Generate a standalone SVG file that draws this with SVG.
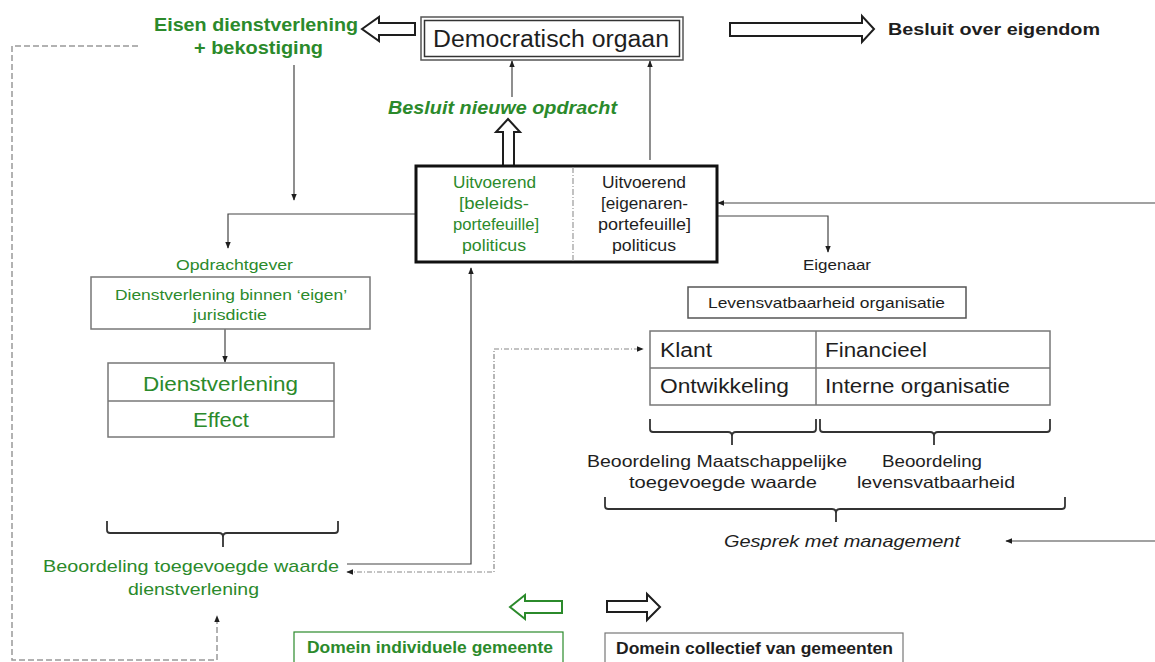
<svg xmlns="http://www.w3.org/2000/svg" width="1155" height="662" viewBox="0 0 1155 662">
<style>
text{font-family:"Liberation Sans",Arial,sans-serif;fill:#1e1e1e}
.g{fill:#2b8a2b}
.b{font-weight:bold}
.i{font-style:italic}
.box{fill:#fff;stroke:#777;stroke-width:1.5}
.ln{fill:none;stroke:#444;stroke-width:1.2}
.br{fill:none;stroke:#333;stroke-width:1.8}
.hol{fill:#fff;stroke:#1e1e1e;stroke-width:2;stroke-linejoin:miter}
</style>
<defs>
<marker id="ah" viewBox="0 0 10 10" refX="9" refY="5" markerWidth="7" markerHeight="7" orient="auto-start-reverse" markerUnits="userSpaceOnUse">
<path d="M0,1 L10,5 L0,9 Z" fill="#1e1e1e"/>
</marker>
</defs>

<g id="connectors">
<line class="ln" x1="512" y1="97" x2="512" y2="61" marker-end="url(#ah)"/>
<line class="ln" x1="650" y1="160" x2="650" y2="61" marker-end="url(#ah)"/>
<line class="ln" x1="294" y1="65" x2="294" y2="200" marker-end="url(#ah)"/>
<path class="ln" d="M416,214 L228,214 L228,248" marker-end="url(#ah)"/>
<line class="ln" x1="225" y1="323" x2="225" y2="362" marker-end="url(#ah)"/>
<line class="ln" x1="1155" y1="203" x2="718" y2="203" marker-end="url(#ah)"/>
<path class="ln" d="M717,216 L828,216 L828,252" marker-end="url(#ah)"/>
<path class="ln" d="M347,564 L471,564 L471,268" marker-end="url(#ah)"/>
<path fill="none" stroke="#888" stroke-width="1.2" stroke-dasharray="5,2,1,2" d="M347,572 L494,572 L494,349 L643,349" marker-start="url(#ah)" marker-end="url(#ah)"/>
<path fill="none" stroke="#999" stroke-width="1.5" stroke-dasharray="6,3" d="M138,46 L12,46 L12,660 L217,660 L217,616" marker-end="url(#ah)"/>
<line class="ln" x1="1155" y1="541" x2="1006" y2="541" marker-end="url(#ah)"/>
</g>

<g id="arrow-eisen">
<polygon class="hol" points="362,29 379,17 379,23 415,23 415,35 379,35 379,41"/>
</g>
<g id="arrow-eigendom">
<polygon class="hol" points="730,23 862,23 862,16 874,29 862,42 862,36 730,36"/>
</g>
<g id="arrow-opdracht">
<polygon class="hol" points="508,119 520,132 514,132 514,166 503,166 503,132 496,132"/>
</g>

<g id="eisen">
<text class="g b" x="154" y="31" font-size="18" textLength="204" lengthAdjust="spacingAndGlyphs">Eisen dienstverlening</text>
<text class="g b" x="194" y="54" font-size="18" textLength="129" lengthAdjust="spacingAndGlyphs">+ bekostiging</text>
</g>

<g id="democratisch-orgaan">
<rect x="421" y="17" width="262" height="43" fill="#fff" stroke="#555" stroke-width="1.5"/>
<rect x="424.5" y="20.5" width="255" height="36" fill="none" stroke="#333" stroke-width="1.5"/>
<text x="433" y="47" font-size="23" textLength="236" lengthAdjust="spacingAndGlyphs">Democratisch orgaan</text>
</g>

<g id="besluit-eigendom">
<text class="b" x="888" y="35" font-size="17" textLength="212" lengthAdjust="spacingAndGlyphs">Besluit over eigendom</text>
</g>

<g id="besluit-opdracht">
<text class="g b i" x="388" y="114" font-size="18" textLength="229" lengthAdjust="spacingAndGlyphs">Besluit nieuwe opdracht</text>
</g>

<g id="uitvoerend">
<rect x="416" y="166" width="301" height="96" fill="#fff" stroke="#111" stroke-width="3"/>
<line x1="573" y1="167" x2="573" y2="261" stroke="#999" stroke-width="1.2" stroke-dasharray="6,2,1,2"/>
<g font-size="16">
<text class="g" x="453" y="188" textLength="83" lengthAdjust="spacingAndGlyphs">Uitvoerend</text>
<text class="g" x="459" y="209" textLength="70" lengthAdjust="spacingAndGlyphs">[beleids-</text>
<text class="g" x="453" y="230" textLength="86" lengthAdjust="spacingAndGlyphs">portefeuille]</text>
<text class="g" x="462" y="251" textLength="64" lengthAdjust="spacingAndGlyphs">politicus</text>
<text x="602" y="188" textLength="84" lengthAdjust="spacingAndGlyphs">Uitvoerend</text>
<text x="601" y="209" textLength="87" lengthAdjust="spacingAndGlyphs">[eigenaren-</text>
<text x="598" y="230" textLength="93" lengthAdjust="spacingAndGlyphs">portefeuille]</text>
<text x="612" y="251" textLength="64" lengthAdjust="spacingAndGlyphs">politicus</text>
</g>
</g>

<g id="opdrachtgever">
<text class="g" x="176" y="270" font-size="15" textLength="117" lengthAdjust="spacingAndGlyphs">Opdrachtgever</text>
<rect class="box" x="91" y="277" width="279" height="52"/>
<text class="g" x="115" y="300" font-size="15" textLength="232" lengthAdjust="spacingAndGlyphs">Dienstverlening binnen ‘eigen’</text>
<text class="g" x="193" y="320" font-size="15" textLength="74" lengthAdjust="spacingAndGlyphs">jurisdictie</text>
</g>

<g id="dienstverlening-effect">
<rect class="box" x="108" y="363" width="226" height="74"/>
<line x1="108" y1="401" x2="334" y2="401" stroke="#777" stroke-width="1.5"/>
<text class="g" x="143" y="391" font-size="21" textLength="155" lengthAdjust="spacingAndGlyphs">Dienstverlening</text>
<text class="g" x="193" y="427" font-size="21" textLength="56" lengthAdjust="spacingAndGlyphs">Effect</text>
</g>

<g id="beoordeling-dienstverlening">
<path class="br" d="M107,521 L107,530 Q107,533 110,533 L219,533 Q223,533 223,537 L223,547 M223,537 Q223,533 227,533 L335,533 Q338,533 338,530 L338,521"/>
<text class="g" x="43" y="572" font-size="17" textLength="296" lengthAdjust="spacingAndGlyphs">Beoordeling toegevoegde waarde</text>
<text class="g" x="128" y="595" font-size="17" textLength="131" lengthAdjust="spacingAndGlyphs">dienstverlening</text>
</g>

<g id="eigenaar">
<text x="803" y="270" font-size="15.5" textLength="68" lengthAdjust="spacingAndGlyphs">Eigenaar</text>
<rect x="688" y="287" width="278" height="31" fill="#fff" stroke="#555" stroke-width="1.5"/>
<text x="708" y="308" font-size="15" textLength="237" lengthAdjust="spacingAndGlyphs">Levensvatbaarheid organisatie</text>
</g>

<g id="scorecard">
<rect class="box" x="650" y="331" width="400" height="74"/>
<line x1="650" y1="368" x2="1050" y2="368" stroke="#777" stroke-width="1.5"/>
<line x1="816" y1="331" x2="816" y2="405" stroke="#777" stroke-width="1.5"/>
<g font-size="20">
<text x="660" y="357" textLength="52" lengthAdjust="spacingAndGlyphs">Klant</text>
<text x="825" y="357" textLength="102" lengthAdjust="spacingAndGlyphs">Financieel</text>
<text x="660" y="393" textLength="129" lengthAdjust="spacingAndGlyphs">Ontwikkeling</text>
<text x="825" y="393" textLength="185" lengthAdjust="spacingAndGlyphs">Interne organisatie</text>
</g>
</g>

<g id="beoordeling-eigenaar">
<path class="br" d="M650,419 L650,429 Q650,432 653,432 L728,432 Q732,432 732,436 L732,445 M732,436 Q732,432 736,432 L813,432 Q816,432 816,429 L816,419"/>
<path class="br" d="M820,419 L820,429 Q820,432 823,432 L930,432 Q934,432 934,436 L934,445 M934,436 Q934,432 938,432 L1047,432 Q1050,432 1050,429 L1050,419"/>
<g font-size="16.5">
<text x="587" y="467" textLength="260" lengthAdjust="spacingAndGlyphs">Beoordeling Maatschappelijke</text>
<text x="629" y="488" textLength="188" lengthAdjust="spacingAndGlyphs">toegevoegde waarde</text>
<text x="882" y="467" textLength="100" lengthAdjust="spacingAndGlyphs">Beoordeling</text>
<text x="857" y="488" textLength="158" lengthAdjust="spacingAndGlyphs">levensvatbaarheid</text>
</g>
<path class="br" d="M605,497 L605,506 Q605,509 608,509 L832,509 Q836,509 836,513 L836,522 M836,513 Q836,509 840,509 L1062,509 Q1065,509 1065,506 L1065,497"/>
</g>

<g id="gesprek">
<text class="i" x="724" y="547" font-size="17" textLength="236" lengthAdjust="spacingAndGlyphs">Gesprek met management</text>
</g>

<g id="legend-individueel">
<polygon fill="#fff" stroke="#2b8a2b" stroke-width="2" points="510,607 525,595 525,601 562,601 562,613 525,613 525,619"/>
<rect x="294" y="632" width="269" height="34" fill="#fff" stroke="#2b8a2b" stroke-width="1.2"/>
<text class="g b" x="307" y="653" font-size="16" textLength="246" lengthAdjust="spacingAndGlyphs">Domein individuele gemeente</text>
</g>

<g id="legend-collectief">
<polygon class="hol" points="607,601 647,601 647,594 660,607 647,620 647,612 607,612"/>
<rect x="605" y="633" width="298" height="34" fill="#fff" stroke="#777" stroke-width="1.2"/>
<text class="b" x="616" y="654" font-size="16" textLength="277" lengthAdjust="spacingAndGlyphs">Domein collectief van gemeenten</text>
</g>
</svg>
